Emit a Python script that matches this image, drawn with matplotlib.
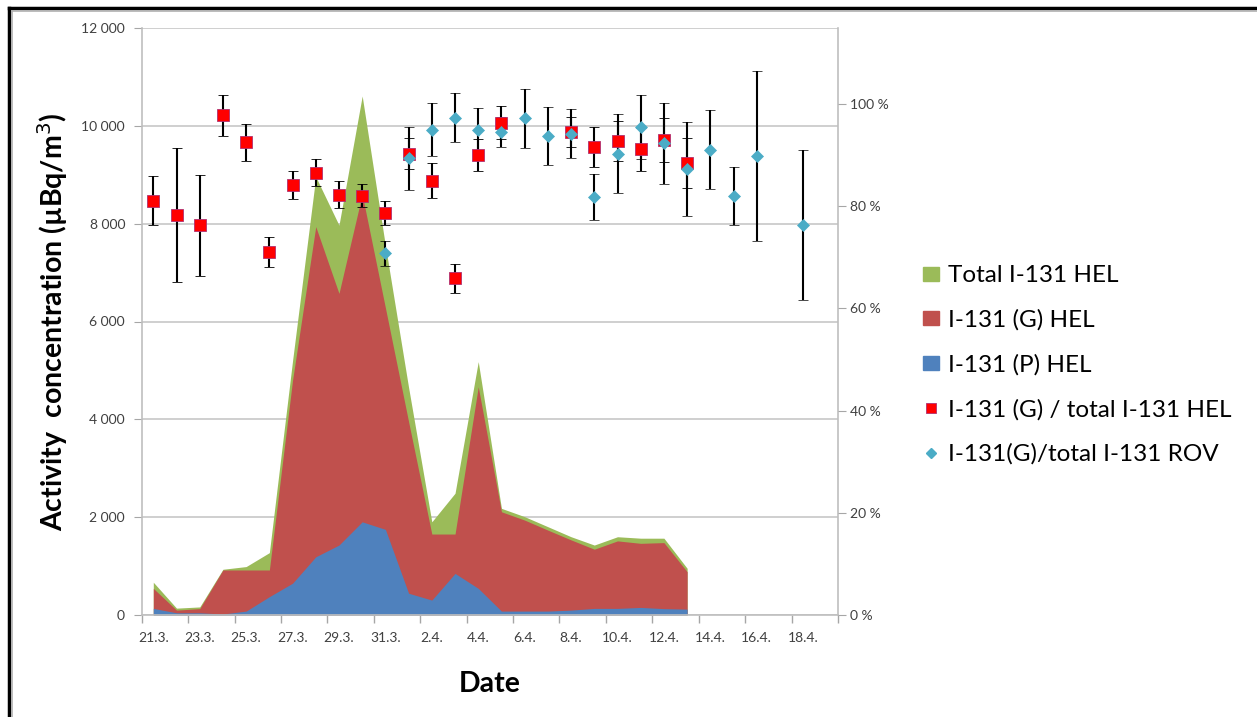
import numpy as np
import matplotlib
matplotlib.use("Agg")
import matplotlib.pyplot as plt
from matplotlib.patches import Patch
from matplotlib.lines import Line2D
from matplotlib.ticker import FuncFormatter

plt.rcParams['font.family'] = ['Lato', 'DejaVu Sans']

# categories (one per day)
dates = ['21.3.', '22.3.', '23.3.', '24.3.', '25.3.', '26.3.', '27.3.', '28.3.', '29.3.', '30.3.',
         '31.3.', '1.4.', '2.4.', '3.4.', '4.4.', '5.4.', '6.4.', '7.4.', '8.4.', '9.4.',
         '10.4.', '11.4.', '12.4.', '13.4.', '14.4.', '15.4.', '16.4.', '17.4.', '18.4.', '19.4.']

# activity concentration, µBq/m3 (21.3. - 13.4.)
total_hel = [670, 140, 165, 935, 990, 1275, 5200, 8960, 7970, 10610, 7550, 4650,
             1905, 2490, 5180, 2180, 2010, 1805, 1600, 1430, 1600, 1570, 1570, 955]
g_hel = [545, 100, 130, 920, 920, 920, 4800, 7940, 6575, 8600, 6280, 3950,
         1655, 1655, 4665, 2110, 1940, 1735, 1535, 1345, 1515, 1465, 1480, 885]
p_hel = [135, 45, 45, 20, 80, 375, 650, 1190, 1430, 1905, 1750, 445,
         305, 850, 545, 80, 80, 80, 100, 135, 135, 155, 130, 120]

nan = np.nan
# ratio G / total, %
ratio_hel = [81.1, 78.3, 76.3, 97.8, 92.5, 71.1, 84.2, 86.6, 82.3, 82.1, 78.7, 90.3, 85.0, 65.9,
             90.1, 96.4, nan, nan, 94.5, 91.6, 92.8, 91.2, 93.0, 88.5, nan, nan, nan, nan, nan, nan]
err_hel = [4.8, 13.2, 9.9, 4.0, 3.7, 2.9, 2.7, 2.6, 2.6, 2.3, 2.4, 3.0, 3.4, 2.8,
           3.1, 3.3, nan, nan, 2.9, 3.9, 3.9, 4.2, 4.3, 4.9, nan, nan, nan, nan, nan, nan]
ratio_rov = [nan] * 10 + [70.8, 89.4, 95.0, 97.3, 95.0, 94.6, 97.2, 93.7, 94.2, 81.9,
                          90.3, 95.5, 92.3, 87.3, 91.1, 82.0, 89.9, nan, 76.3, nan]
err_rov = [nan] * 10 + [2.4, 6.2, 5.2, 4.8, 4.2, 2.9, 5.8, 5.7, 4.8, 4.5,
                        7.7, 6.3, 7.9, 9.2, 7.8, 5.7, 16.6, nan, 14.7, nan]

c_total = '#9bbb59'
c_g = '#c0504d'
c_p = '#4f81bd'
c_hel = '#ff0000'
c_rov = '#4bacc6'

fig = plt.figure(figsize=(12.57, 7.17), dpi=100)
ax = fig.add_axes([141.7 / 1257, 1 - 615 / 717, (838 - 141.7) / 1257, 587 / 717])

xa = np.arange(len(total_hel))
ax.fill_between(xa, 0, total_hel, color=c_total, lw=0)
ax.fill_between(xa, 0, g_hel, color=c_g, lw=0)
ax.fill_between(xa, 0, p_hel, color=c_p, lw=0)

ax.set_xlim(-0.5, len(dates) - 0.5)
ax.set_ylim(0, 12000)
ax.set_yticks(range(0, 12001, 2000))
ax.yaxis.set_major_formatter(FuncFormatter(lambda v, p: f'{int(v):,}'.replace(',', ' ')))
ax.grid(axis='y', color='#cccccc', lw=1.3)
ax.set_axisbelow(True)

ax.set_xticks(np.arange(-0.5, len(dates), 2))
ax.set_xticklabels([])
ax.set_xticks(np.arange(0, len(dates), 2), minor=True)
ax.set_xticklabels(dates[::2], minor=True)
ax.tick_params(axis='x', which='minor', length=0, pad=12, labelsize=10, labelcolor='#404040')
ax.tick_params(axis='x', which='major', length=6, color='#a6a6a6', width=1)
ax.tick_params(axis='y', length=6, color='#a6a6a6', labelsize=10, labelcolor='#404040', pad=6)

for s in ['left', 'bottom', 'right']:
    ax.spines[s].set_color('#bfbfbf')
    ax.spines[s].set_linewidth(1.2)
ax.spines['top'].set_visible(False)

ax.set_xlabel('Date', fontsize=20.5, fontweight='bold', labelpad=20)
ax.set_ylabel('Activity  concentration (µBq/m$^3$)', fontsize=20.5, fontweight='bold', labelpad=8)

ax2 = ax.twinx()
ax2.set_ylim(0, 114.9)
ax2.set_yticks(range(0, 101, 20))
ax2.yaxis.set_major_formatter(FuncFormatter(lambda v, p: f'{int(v)} %'))
ax2.tick_params(axis='y', length=6, color='#a6a6a6', labelsize=10, labelcolor='#404040', pad=3)
for s in ax2.spines.values():
    s.set_visible(False)

xd = np.arange(len(dates))
ax2.errorbar(xd, ratio_hel, yerr=err_hel, fmt='s', color=c_hel, ms=8.5, mec='#b03070', mew=0.6,
             ecolor='black', elinewidth=1.5, capsize=3.5, capthick=1.5)
ax2.errorbar(xd, ratio_rov, yerr=err_rov, fmt='D', color=c_rov, ms=5.8, mec=c_rov, mew=0.5,
             ecolor='black', elinewidth=1.5, capsize=3.5, capthick=1.5)

handles = [Patch(color=c_total), Patch(color=c_g), Patch(color=c_p),
           Line2D([], [], ls='none', marker='s', ms=7, color=c_hel, mec='#b03070', mew=0.6),
           Line2D([], [], ls='none', marker='D', ms=5, color=c_rov)]
labels = ['Total I-131 HEL', 'I-131 (G) HEL', 'I-131 (P) HEL',
          'I-131 (G) / total I-131 HEL', 'I-131(G)/total I-131 ROV']
fig.legend(handles, labels, loc='center left', bbox_to_anchor=(901 / 1257, 1 - 365 / 717),
           frameon=False, fontsize=17.5, handlelength=0.66, handleheight=0.53,
           handletextpad=0.39, labelspacing=0.95)

# outer frame
fig.add_artist(Line2D([9 / 1257, 9 / 1257], [0, 1 - 8 / 717], color='black', lw=2.5))
fig.add_artist(Line2D([9 / 1257, 1], [1 - 8 / 717, 1 - 8 / 717], color='black', lw=2.5))
fig.add_artist(Line2D([12 / 1257, 12 / 1257], [0, 1 - 11 / 717], color='#b0b0b0', lw=1.2))
fig.add_artist(Line2D([12 / 1257, 1], [1 - 11 / 717, 1 - 11 / 717], color='#b0b0b0', lw=1.2))

fig.savefig('out.png', dpi=100)
